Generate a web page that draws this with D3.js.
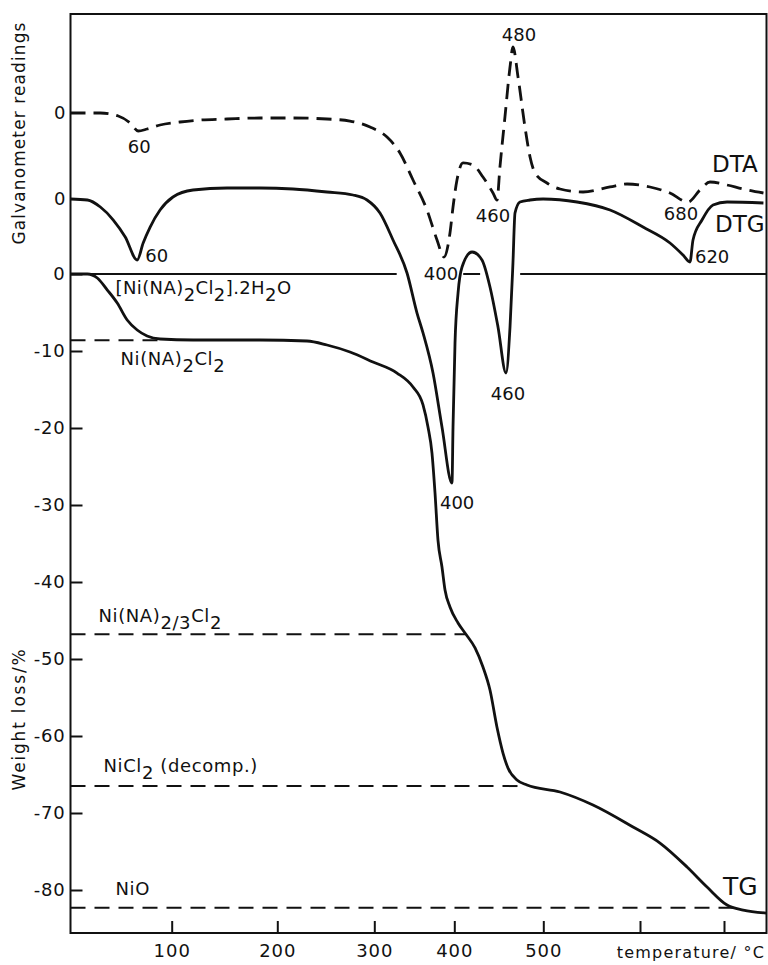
<!DOCTYPE html>
<html>
<head>
<meta charset="utf-8">
<script src="https://cdn.jsdelivr.net/npm/d3@7"></script>
<style>
  body { margin: 0; background: #fff; }
  svg text { font-family: "DejaVu Sans", sans-serif; fill: #111; }
</style>
</head>
<body>
<div id="root"></div>
<script>
// temperatures in degC, galvanometer readings in chart divisions, TG in weight %
const dtaTemp = [0,29.5,47.2,59,66.9,75.7,88.5,107.9,126.8,152.4,183.5,216.2,251.2,274.9,295.6,315.9,332.1,348.4,365.9,378.4,387.1,394.6,398.4,403,409.8,421,432.2,443.5,448,451.3,456.9,462.6,465.9,471.6,479.4,485.1,490.7,503.8,517.3,541.1,569,586.6,611.9,635.7,657.1,671.4,683.3,703.6,722.6,746.4];
const dtaVal = [0,0,-0.39,-1.3,-2.34,-2.08,-1.56,-1.17,-0.91,-0.78,-0.65,-0.65,-0.78,-1.04,-1.82,-3.12,-5.19,-8.7,-12.6,-16.49,-18.7,-15.58,-12.21,-8.7,-6.49,-6.75,-8.31,-10.39,-11.3,-7.01,-0.52,5.97,8.57,4.68,-1.82,-5.71,-7.79,-9.09,-9.87,-10.26,-9.61,-9.22,-9.61,-10.39,-11.56,-10,-8.96,-9.35,-9.87,-10.39];

const dtgTemp = [0,16.7,29.5,42.3,54.1,65.9,71.8,78.7,88.5,101.2,120.2,152.4,183.6,216.2,251.2,278,292.5,307.1,323.4,340.9,353.4,360.9,373.4,384.6,397.1,398.4,400.8,404.2,408.7,419.9,431.1,440.1,449.1,458.1,462.6,465.9,468.2,473.8,485.1,499.7,534.9,569,603.6,635.7,651.2,659.5,663.1,673.8,686.9,703.6,746.4];
const dtgVal = [0,-0.13,-1.04,-2.73,-4.94,-7.92,-5.71,-3.64,-1.43,0.26,1.17,1.43,1.43,1.3,0.91,0.52,-0.13,-1.82,-5.32,-9.61,-14.81,-17.4,-22.6,-29.61,-36.88,-29.61,-18.7,-12.21,-8.83,-6.88,-7.92,-11.43,-16.62,-22.6,-16.62,-8.31,-1.82,-0.39,-0.13,0,-0.39,-1.43,-3.64,-5.71,-7.27,-8.18,-5.32,-2.73,-0.78,-0.39,-0.52];

const tgTemp = [0,16.7,26.5,36.4,46.2,56,65.9,75.7,88.5,120.2,183.6,230.6,251.2,274.9,298.6,328.4,348.4,360.9,367.1,372.1,375.9,379.6,384.6,388.4,394.6,404.2,412,423.3,432.2,440.1,447.9,454.7,460.3,470.4,481.7,517.3,551.4,592.8,623.8,656,679.8,703.6,722.6,750];
const tgVal = [0,0,-0.52,-2.08,-3.77,-5.97,-7.27,-8.05,-8.44,-8.57,-8.57,-8.7,-9.22,-10.13,-11.43,-12.86,-14.68,-17.01,-19.87,-23.25,-28.44,-34.55,-38.05,-41.04,-43.25,-45.32,-46.62,-48.57,-51.04,-54.03,-58.83,-62.21,-64.16,-65.71,-66.36,-67.27,-68.96,-71.82,-73.9,-77.01,-79.61,-81.95,-82.6,-82.99];

// intermediate products (TG plateaus)
const levelNames = ["Ni(NA)_{2}Cl_{2}", "Ni(NA)_{2/3}Cl_{2}", "NiCl_{2} (decomp.)", "NiO"];
const levelVals = [-8.6, -46.8, -66.5, -82.3];
const levelEnds = [90, 412, 477, 711];
const startName = "[Ni(NA)_{2}Cl_{2}].2H_{2}O";

// peak temperatures written on the curves
const dtaPeakText = ["60", "400", "460", "480", "680"];
const dtaPeakTemp = [66.9, 387.1, 448, 465.9, 657.1];
const dtaPeakVal = [-2.34, -18.7, -11.3, 8.57, -11.56];
const dtgPeakText = ["60", "400", "460", "620"];
const dtgPeakTemp = [65.9, 397.1, 458.1, 659.5];
const dtgPeakVal = [-7.92, -36.88, -22.6, -8.18];

// TG zero reference line, interrupted where curves cross it
const zeroSegs = [[0, 328], [410, 429], [474, 750]];

const tgTicks = [0, -10, -20, -30, -40, -50, -60, -70, -80];
const tempTicks = [100, 200, 300, 400, 500, 600, 700];
const tempTickLabels = ["100", "200", "300", "400", "500", "", ""];

const W = 768, H = 965, plotTop = 14, plotBottom = 933;

const svg = d3.select("#root").append("svg")
  .attr("width", W).attr("height", H)
  .style("background", "#fff")
  .style("display", "block");

// furnace temperature scale is not linear on the recording
const x = d3.scaleLinear()
  .domain([0, 100, 200, 300, 400, 500, 600, 700, 750])
  .range([70.5, 171.7, 277.3, 374.3, 454.3, 543.3, 640, 724, 766.5]);

const yTG = d3.scaleLinear().domain([0, -80]).range([274, 890]);
const yDTA = d3.scaleLinear().domain([0, -10]).range([113, 190]);
const yDTG = d3.scaleLinear().domain([0, -10]).range([199, 276]);

const x0 = x(0), x1 = x(750);

// frame
svg.append("rect")
  .attr("x", x0).attr("y", plotTop)
  .attr("width", x1 - x0).attr("height", plotBottom - plotTop)
  .attr("fill", "none").attr("stroke", "#111").attr("stroke-width", 2);

// axes
const xAxis = svg.append("g")
  .attr("transform", "translate(0," + plotBottom + ")")
  .call(d3.axisBottom(x).tickValues(tempTicks).tickSize(-12).tickPadding(11)
    .tickFormat((d, i) => tempTickLabels[i]));
xAxis.select(".domain").remove();
xAxis.selectAll("line").attr("stroke", "#111").attr("stroke-width", 2);
xAxis.selectAll("text").attr("font-size", 18).attr("letter-spacing", 1).attr("fill", "#111");

const yAxis = svg.append("g")
  .attr("transform", "translate(" + x0 + ",0)")
  .call(d3.axisLeft(yTG).tickValues(tgTicks).tickSize(-12).tickPadding(5)
    .tickFormat(d => d === 0 ? "0" : "-" + Math.abs(d)));
yAxis.select(".domain").remove();
yAxis.selectAll("line").attr("stroke", "#111").attr("stroke-width", 2);
yAxis.selectAll("text").attr("font-size", 18).attr("letter-spacing", 0.8).attr("fill", "#111");

[yDTA, yDTG].forEach(s => {
  const g = svg.append("g")
    .attr("transform", "translate(" + x0 + ",0)")
    .call(d3.axisLeft(s).tickValues([0]).tickSize(0).tickPadding(5));
  g.select(".domain").remove();
  g.selectAll("text").attr("font-size", 18).attr("fill", "#111");
});

// axis titles
svg.append("text")
  .attr("transform", "translate(25,133) rotate(-90)")
  .attr("text-anchor", "middle").attr("font-size", 17).attr("letter-spacing", 1.1)
  .text("Galvanometer  readings");
svg.append("text")
  .attr("transform", "translate(25,719) rotate(-90)")
  .attr("text-anchor", "middle").attr("font-size", 17).attr("letter-spacing", 1.8)
  .text("Weight loss/%");
svg.append("text")
  .attr("x", 765).attr("y", 958)
  .attr("text-anchor", "end").attr("font-size", 16).attr("letter-spacing", 1.2)
  .text("temperature/ \u00b0C");

// text with _{..} subscripts
function richText(sel, str) {
  const parts = str.split(/_\{([^}]*)\}/);
  let down = false;
  parts.forEach((p, i) => {
    if (!p) return;
    const sub = i % 2 === 1;
    const t = sel.append("tspan").text(p);
    if (sub && !down) { t.attr("dy", 7); down = true; }
    else if (!sub && down) { t.attr("dy", -7); down = false; }
  });
}

// TG zero line
svg.append("g").selectAll("line")
  .data(zeroSegs).enter().append("line")
  .attr("x1", d => x(d[0])).attr("x2", d => x(d[1]))
  .attr("y1", yTG(0)).attr("y2", yTG(0))
  .attr("stroke", "#111").attr("stroke-width", 2);

// plateau levels
const levelLabelDx = [50, 28, 33, 45];
const levelLabelDy = [25, -12, -14, -13];
svg.append("g").selectAll("line")
  .data(levelVals).enter().append("line")
  .attr("x1", x0).attr("x2", (d, i) => x(levelEnds[i]))
  .attr("y1", d => yTG(d)).attr("y2", d => yTG(d))
  .attr("stroke", "#111").attr("stroke-width", 2)
  .attr("stroke-dasharray", "15,9");

levelNames.forEach((name, i) => {
  const t = svg.append("text")
    .attr("x", x0 + levelLabelDx[i]).attr("y", yTG(levelVals[i]) + levelLabelDy[i])
    .attr("font-size", 18).attr("letter-spacing", 0.6);
  richText(t, name);
});
const st = svg.append("text")
  .attr("x", x0 + 45).attr("y", yTG(0) + 20)
  .attr("font-size", 18).attr("letter-spacing", 0.4);
richText(st, startName);

// curves
const line = (ys) => d3.line()
  .x(d => x(d[0])).y(d => ys(d[1]))
  .curve(d3.curveMonotoneX);

svg.append("path")
  .datum(dtaTemp.map((t, i) => [t, dtaVal[i]]))
  .attr("d", line(yDTA))
  .attr("fill", "none").attr("stroke", "#111").attr("stroke-width", 2.8)
  .attr("stroke-dasharray", "15,8");

svg.append("path")
  .datum(dtgTemp.map((t, i) => [t, dtgVal[i]]))
  .attr("d", line(yDTG))
  .attr("fill", "none").attr("stroke", "#111").attr("stroke-width", 2.8)
  .attr("stroke-linejoin", "round");

svg.append("path")
  .datum(tgTemp.map((t, i) => [t, tgVal[i]]))
  .attr("d", line(yTG))
  .attr("fill", "none").attr("stroke", "#111").attr("stroke-width", 2.8);

// peak labels
const dtaOff = [[1, 22, "middle"], [-3, 23, "middle"], [-4, 22, "middle"], [6, -6, "middle"], [-7, 18, "middle"]];
const dtgOff = [[8, 2, "start"], [-12, 26, "start"], [2, 27, "middle"], [5, 1, "start"]];
dtaPeakText.forEach((txt, i) => {
  svg.append("text")
    .attr("x", x(dtaPeakTemp[i]) + dtaOff[i][0]).attr("y", yDTA(dtaPeakVal[i]) + dtaOff[i][1])
    .attr("text-anchor", dtaOff[i][2]).attr("font-size", 18).text(txt);
});
dtgPeakText.forEach((txt, i) => {
  svg.append("text")
    .attr("x", x(dtgPeakTemp[i]) + dtgOff[i][0]).attr("y", yDTG(dtgPeakVal[i]) + dtgOff[i][1])
    .attr("text-anchor", dtgOff[i][2]).attr("font-size", 18).text(txt);
});

// curve names
svg.append("text").attr("x", 712).attr("y", 172).attr("font-size", 23).text("DTA");
svg.append("text").attr("x", 715).attr("y", 232).attr("font-size", 23).text("DTG");
svg.append("text").attr("x", 723).attr("y", 895).attr("font-size", 25).text("TG");
</script>
</body>
</html>
